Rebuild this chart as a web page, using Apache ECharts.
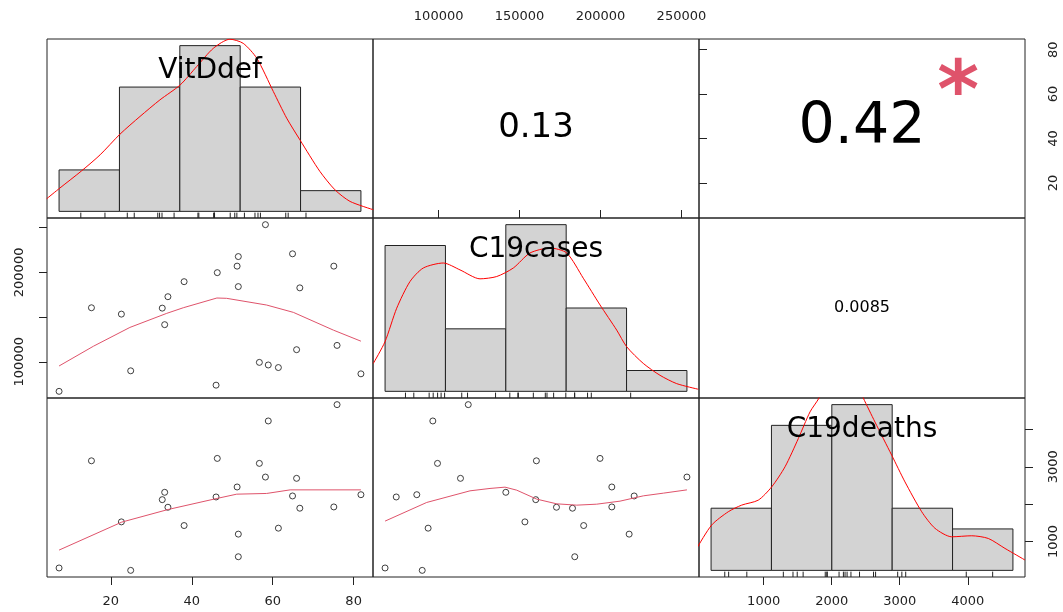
<!DOCTYPE html>
<html>
<head>
<meta charset="utf-8">
<script src="https://cdn.jsdelivr.net/npm/echarts@6/dist/echarts.min.js"></script>
<style>
  html, body { margin: 0; padding: 0; background: #fff; }
  #chart { width: 1063px; height: 612px; }
</style>
</head>
<body>
<div id="chart"></div>
<script>
// observations (one per row of the original data)
var vitDdef = [7.2, 15.2, 22.6, 24.9, 32.7, 33.3, 34.1, 38.1, 46.0, 46.3, 51.2, 51.5, 51.5, 56.7, 58.2, 58.9, 61.4, 64.9, 65.9, 66.7, 75.1, 75.9, 81.8];
var c19cases = [66900, 160400, 153300, 89850, 160000, 141500, 172800, 189600, 73800, 199700, 207000, 217700, 184100, 99300, 253400, 96400, 93500, 220800, 113500, 182700, 207000, 118300, 86500];
var c19deaths = [291, 3160, 1525, 227, 2120, 2317, 1917, 1427, 2192, 3224, 2459, 1197, 592, 3091, 2725, 4227, 1357, 2219, 2691, 1891, 1925, 4664, 2253];

// histograms
var vitBreaks = [0, 20, 40, 60, 80, 100];
var vitCounts = [2, 6, 8, 6, 1];
var casesBreaks = [50000, 100000, 150000, 200000, 250000, 300000];
var casesCounts = [7, 3, 8, 4, 1];
var deathsBreaks = [0, 1000, 2000, 3000, 4000, 5000];
var deathsCounts = [3, 7, 8, 3, 2];

// density curves, in histogram units [value, count]
var vitDensity = [[-4.1, 0.61], [0.3, 1.13], [7.5, 1.96], [13.6, 2.73], [20.2, 3.73], [26.8, 4.58], [33.4, 5.38], [40.1, 6.1], [45.6, 6.99], [51.1, 7.87], [56.6, 8.31], [61.0, 8.11], [65.5, 7.39], [71.0, 5.78], [75.4, 4.5], [79.8, 3.45], [86.4, 1.93], [91.4, 1.04], [96.4, 0.48], [104.1, 0.08]];
var casesDensity = [[40250, 1.34], [49940, 2.38], [59630, 3.99], [70640, 5.27], [81660, 5.92], [98220, 6.16], [112050, 5.83], [128620, 5.4], [142450, 5.51], [156200, 5.92], [170030, 6.64], [186600, 6.88], [200420, 6.64], [214170, 5.43], [228000, 4.15], [241830, 2.94], [250110, 2.14], [263860, 1.34], [277690, 0.77], [291520, 0.37], [309410, 0.1]];
var deathsDensity = [[-221, 1.14], [10, 2.19], [285, 2.83], [507, 3.15], [782, 3.39], [1004, 4.03], [1225, 5.0], [1445, 6.36], [1639, 7.65], [1788, 8.32], [1970, 9.5], [2152, 9.8], [2334, 9.5], [2521, 8.32], [2715, 7.16], [2992, 5.56], [3212, 4.27], [3489, 2.83], [3709, 2.03], [3986, 1.62], [4317, 1.67], [4592, 1.54], [4868, 1.06], [5200, 0.5]];

// smoothers in the scatter panels
var vitCasesSmooth = [[7.2, 95270], [15.7, 117400], [24.7, 138410], [33.8, 154140], [37.9, 160430], [46.2, 171330], [48.6, 170990], [58.5, 163460], [65.1, 155260], [75.0, 135380], [81.8, 123020]];
var vitDeathsSmooth = [[7.2, 770], [22.7, 1519], [34.2, 1858], [46.2, 2152], [51.1, 2267], [58.5, 2286], [64.3, 2382], [81.8, 2382]];
var casesDeathsSmooth = [[66900, 1546], [92620, 2045], [119380, 2356], [131730, 2420], [141000, 2455], [148230, 2374], [160590, 2134], [172950, 2008], [185310, 1973], [197660, 1999], [212060, 2080], [226460, 2222], [238820, 2294], [253400, 2382]];

// tick labels
var vitTicks = [20, 40, 60, 80];
var casesTicks = [100000, 150000, 200000, 250000];
var casesLeftLabels = [100000, 200000];
var deathsTicks = [1000, 2000, 3000, 4000];
var deathsRightLabels = [1000, 3000];

var varNames = ['VitDdef', 'C19cases', 'C19deaths'];
var corrLabels = ['0.13', '0.42', '0.0085'];   // (1,2), (1,3), (2,3)
var corrSizes = [34, 57, 16];
var starLabel = '*';

// layout
var colLeft = [47, 373, 699];
var rowTop = [39, 218, 398];
var panelW = 326;
var rowH = [179, 180, 179];
var font = 'DejaVu Sans';

function padRange(arr) {
  var lo = Math.min.apply(null, arr), hi = Math.max.apply(null, arr);
  var d = (hi - lo) * 0.04;
  return [lo - d, hi + d];
}

var vitRange = padRange(vitDdef);
var casesRange = padRange(c19cases);
var deathsRange = padRange(c19deaths);

var chart = echarts.init(document.getElementById('chart'));

var grids = [];
for (var r = 0; r < 3; r++) {
  for (var c = 0; c < 3; c++) {
    grids.push({
      left: colLeft[c], top: rowTop[r], width: panelW, height: rowH[r],
      show: true, borderColor: '#222', borderWidth: 1, backgroundColor: 'transparent'
    });
  }
}

function hidden(gi, range) {
  return {
    type: 'value', gridIndex: gi, min: range[0], max: range[1],
    axisLine: { show: false }, axisTick: { show: false },
    axisLabel: { show: false }, splitLine: { show: false }
  };
}

function shown(gi, range, pos, ticks, labels, rotate, margin) {
  var a = hidden(gi, range);
  a.position = pos;
  a.axisTick = { show: true, length: 8, lineStyle: { color: '#222' }, customValues: ticks };
  a.axisLabel = {
    show: true, customValues: labels || ticks, color: '#222',
    fontFamily: font, fontSize: 13, margin: margin, rotate: rotate || 0,
    formatter: function (v) { return String(v); }
  };
  return a;
}

var unit = [0, 1];
var xAxis = [
  hidden(0, padRange(vitBreaks)),
  shown(1, casesRange, 'top', casesTicks, null, 0, 16),
  hidden(2, unit),
  hidden(3, vitRange),
  hidden(4, padRange(casesBreaks)),
  hidden(5, unit),
  shown(6, vitRange, 'bottom', vitTicks, null, 0, 18),
  hidden(7, casesRange),
  hidden(8, padRange(deathsBreaks)),
  shown(8, deathsRange, 'bottom', deathsTicks, null, 0, 18)
];
var yAxis = [
  hidden(0, padRange([0, Math.max.apply(null, vitCounts)])),
  hidden(1, unit),
  shown(2, vitRange, 'right', vitTicks, null, 90, 22),
  shown(3, casesRange, 'left', casesTicks, casesLeftLabels, 90, 21),
  hidden(4, padRange([0, Math.max.apply(null, casesCounts)])),
  hidden(5, unit),
  hidden(6, deathsRange),
  hidden(7, deathsRange),
  hidden(8, padRange([0, Math.max.apply(null, deathsCounts)])),
  shown(8, deathsRange, 'right', deathsTicks, deathsRightLabels, 90, 22)
];

function histSeries(ax, breaks, counts) {
  return {
    type: 'custom', xAxisIndex: ax, yAxisIndex: ax,
    data: counts.map(function (n, i) { return [breaks[i], breaks[i + 1], n]; }),
    encode: { x: [0, 1], y: 2 },
    renderItem: function (params, api) {
      var p0 = api.coord([api.value(0), api.value(2)]);
      var p1 = api.coord([api.value(1), 0]);
      return {
        type: 'rect',
        shape: { x: p0[0], y: p0[1], width: p1[0] - p0[0], height: p1[1] - p0[1] },
        style: { fill: '#D3D3D3', stroke: '#222', lineWidth: 1 }
      };
    }
  };
}

function rugSeries(ax, values, counts) {
  var yr = padRange([0, Math.max.apply(null, counts)]);
  return {
    type: 'custom', xAxisIndex: ax, yAxisIndex: ax,
    data: values.map(function (v) { return [v]; }),
    encode: { x: 0 },
    renderItem: function (params, api) {
      var a = api.coord([api.value(0), yr[0]]);
      var b = api.coord([api.value(0), yr[0] + 0.03 * (yr[1] - yr[0])]);
      return {
        type: 'line',
        shape: { x1: a[0], y1: a[1], x2: b[0], y2: b[1] },
        style: { stroke: '#222', lineWidth: 1 }
      };
    }
  };
}

function lineSeries(ax, data, color, smooth) {
  return {
    type: 'line', xAxisIndex: ax, yAxisIndex: ax, data: data,
    showSymbol: false, smooth: smooth, clip: true, silent: true,
    lineStyle: { color: color, width: 1 }
  };
}

function pointSeries(ax, xs, ys) {
  return {
    type: 'scatter', xAxisIndex: ax, yAxisIndex: ax,
    data: xs.map(function (v, i) { return [v, ys[i]]; }),
    symbol: 'circle', symbolSize: 6,
    itemStyle: { color: 'transparent', borderColor: '#111', borderWidth: 1 }
  };
}

var series = [
  histSeries(0, vitBreaks, vitCounts),
  rugSeries(0, vitDdef, vitCounts),
  lineSeries(0, vitDensity, '#FF0000', 0.25),
  histSeries(4, casesBreaks, casesCounts),
  rugSeries(4, c19cases, casesCounts),
  lineSeries(4, casesDensity, '#FF0000', 0.25),
  histSeries(8, deathsBreaks, deathsCounts),
  rugSeries(8, c19deaths, deathsCounts),
  lineSeries(8, deathsDensity, '#FF0000', 0.25),
  pointSeries(3, vitDdef, c19cases),
  lineSeries(3, vitCasesSmooth, '#DF536B', false),
  pointSeries(6, vitDdef, c19deaths),
  lineSeries(6, vitDeathsSmooth, '#DF536B', false),
  pointSeries(7, c19cases, c19deaths),
  lineSeries(7, casesDeathsSmooth, '#DF536B', false)
];

function panelText(r, c, fx, fy, text, size, color, weight) {
  return {
    type: 'text', z: 100,
    x: colLeft[c] + fx * panelW, y: rowTop[r] + fy * rowH[r],
    style: {
      text: text, fill: color || '#000', fontFamily: font, fontSize: size,
      fontWeight: weight || 'normal', align: 'center', verticalAlign: 'middle'
    }
  };
}

var graphic = [];
for (var i = 0; i < 3; i++) {
  graphic.push({
    type: 'text', z: 100,
    x: colLeft[i] + panelW / 2, y: rowTop[i] + 32,
    style: { text: varNames[i], fill: '#000', fontFamily: font, fontSize: 28, align: 'center', verticalAlign: 'middle' }
  });
}
graphic.push(panelText(0, 1, 0.5, 0.5, corrLabels[0], corrSizes[0]));
graphic.push(panelText(0, 2, 0.5, 0.5, corrLabels[1], corrSizes[1]));
graphic.push(panelText(1, 2, 0.5, 0.5, corrLabels[2], corrSizes[2]));
graphic.push(panelText(0, 2, 0.795, 0.32, starLabel, 80, '#DF536B', 'bold'));

chart.setOption({
  backgroundColor: '#fff',
  animation: false,
  grid: grids,
  xAxis: xAxis,
  yAxis: yAxis,
  series: series,
  graphic: graphic
});

window.onresize = function () { chart.resize(); };
</script>
</body>
</html>
